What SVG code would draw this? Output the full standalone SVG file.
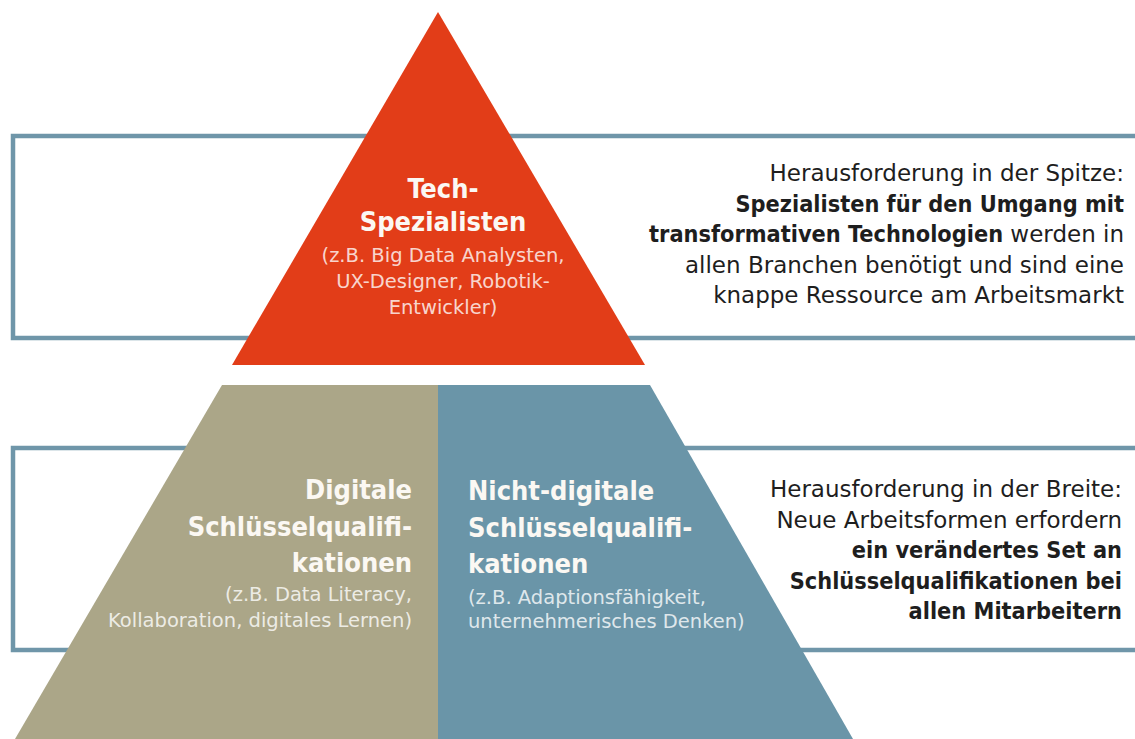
<svg xmlns="http://www.w3.org/2000/svg" width="1135" height="739" viewBox="0 0 1135 739">
<style>
.box{fill:#ffffff;stroke:#6f96a9;stroke-width:4.5}
.t{font-family:"DejaVu Sans Condensed","DejaVu Sans",sans-serif;font-stretch:condensed}
.title{font-size:27px;font-weight:bold;fill:#fbf8f3}
.sub{font-family:"DejaVu Sans",sans-serif;font-stretch:normal;font-size:19.5px;font-weight:normal;fill:#ffffff;fill-opacity:0.8}
.desc{font-family:"DejaVu Sans",sans-serif;font-stretch:normal;font-size:23px;fill:#1e1e1e}
.b{font-family:"DejaVu Sans Condensed","DejaVu Sans",sans-serif;font-stretch:condensed;font-weight:bold;font-size:23.3px}
</style>
<rect width="1135" height="739" fill="#ffffff"/>
<g id="box-top"><rect class="box" x="13" y="136" width="1140" height="202"/></g>
<g id="box-bottom"><rect class="box" x="13" y="448" width="1140" height="202"/></g>
<g id="tech">
<polygon points="438,12 232,365 645,365" fill="#e23d18"/>
<text class="t" text-anchor="middle"><tspan class="title" x="443" y="198">Tech-</tspan><tspan class="title" x="443" y="231">Spezialisten</tspan><tspan class="sub" x="443" y="262">(z.B. Big Data Analysten,</tspan><tspan class="sub" x="443" y="288">UX-Designer, Robotik-</tspan><tspan class="sub" x="443" y="314">Entwickler)</tspan></text>
</g>
<g id="digital">
<polygon points="222,385 438,385 438,739 15,739" fill="#aba688"/>
<text class="t" text-anchor="end"><tspan class="title" x="412" y="499">Digitale</tspan><tspan class="title" x="412" y="536">Schlüsselqualifi-</tspan><tspan class="title" x="412" y="572">kationen</tspan><tspan class="sub" x="412" y="601">(z.B. Data Literacy,</tspan><tspan class="sub" x="412" y="627">Kollaboration, digitales Lernen)</tspan></text>
</g>
<g id="nichtdigital">
<polygon points="438,385 650,385 853,739 438,739" fill="#6a95a8"/>
<text class="t"><tspan class="title" x="468" y="500">Nicht-digitale</tspan><tspan class="title" x="468" y="537">Schlüsselqualifi-</tspan><tspan class="title" x="468" y="573">kationen</tspan><tspan class="sub" x="468" y="604">(z.B. Adaptionsfähigkeit,</tspan><tspan class="sub" x="468" y="628">unternehmerisches Denken)</tspan></text>
</g>
<g id="text-top">
<text class="desc" text-anchor="end"><tspan x="1124" y="181">Herausforderung in der Spitze:</tspan><tspan class="b" x="1124" y="212">Spezialisten für den Umgang mit</tspan><tspan x="1124" y="242"><tspan class="b">transformativen Technologien</tspan> werden in</tspan><tspan x="1124" y="273">allen Branchen benötigt und sind eine</tspan><tspan x="1124" y="303">knappe Ressource am Arbeitsmarkt</tspan></text>
</g>
<g id="text-bottom">
<text class="desc" text-anchor="end"><tspan x="1122" y="497">Herausforderung in der Breite:</tspan><tspan x="1122" y="528">Neue Arbeitsformen erfordern</tspan><tspan class="b" x="1122" y="558">ein verändertes Set an</tspan><tspan class="b" x="1122" y="589">Schlüsselqualifikationen bei</tspan><tspan class="b" x="1122" y="619">allen Mitarbeitern</tspan></text>
</g>
<g id="connectors"></g>
</svg>
